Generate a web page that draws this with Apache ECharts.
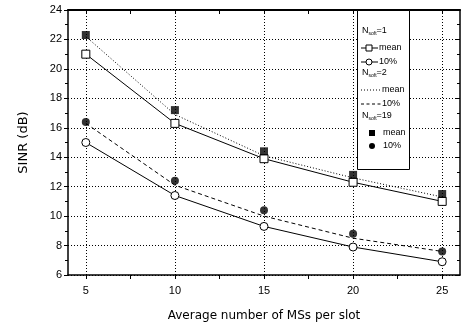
<!DOCTYPE html>
<html><head><meta charset="utf-8">
<script src="https://cdn.jsdelivr.net/npm/echarts@6/dist/echarts.min.js"></script>
<style>html,body{margin:0;padding:0;background:#fff}#c{width:462px;height:327px}</style>
</head><body><div id="c"></div>
<script>
var xValues = [5, 10, 15, 20, 25];
var xTicks = [5, 7.5, 10, 12.5, 15, 17.5, 20, 22.5, 25];
var n1Mean = [21.0, 16.3, 13.9, 12.3, 11.0];
var n1P10 = [15.0, 11.4, 9.3, 7.9, 6.9];
var n2Mean = [22.2, 16.9, 14.1, 12.6, 11.3];
var n2P10 = [16.3, 12.1, 10.0, 8.5, 7.6];
var n19Mean = [22.3, 17.2, 14.4, 12.8, 11.5];
var n19P10 = [16.4, 12.4, 10.4, 8.8, 7.6];
var xTitle = 'Average number of MSs per slot';
var yTitle = 'SINR (dB)';

function pairs(ys){ return xValues.map(function(x,i){return [x, ys[i]];}); }

var chart = echarts.init(document.getElementById('c'), null, {renderer:'canvas'});
var FONT = 'Liberation Sans, Arial, sans-serif';
var axisLine = {show:true, lineStyle:{color:'#000', width:1.5}};
var grid = {show:true, lineStyle:{color:'#000', width:1, type:[1,2]}};

function legendText(y, t){
  return {type:'text', left:362, top:y-6, z:100,
    style:{text:'{a|N}{s|soft}{a|=' + t + '}', rich:{a:{fontSize:9, fontFamily:FONT, fill:'#000'}, s:{fontSize:5, fontFamily:FONT, fill:'#000', padding:[7,0,0,0]}}}};
}
function txt(x,y,t){ return {type:'text', left:x, top:y-5, z:100, style:{text:t, fontSize:9, fontFamily:FONT, fill:'#000'}}; }
function ln(x1,x2,y,dash){ return {type:'line', z:100, shape:{x1:x1,y1:y,x2:x2,y2:y}, style:{stroke:'#000', lineWidth:1, lineDash:dash||null}}; }

var graphics = [
  {type:'rect', z:99, shape:{x:357.5, y:10.5, width:52, height:159}, style:{fill:'#fff', stroke:'#000', lineWidth:1}},
  legendText(32,'1'),
  ln(361,378,48), {type:'rect', z:101, shape:{x:366, y:45, width:6, height:6}, style:{fill:'#fff', stroke:'#000', lineWidth:1}}, txt(379,48,'mean'),
  ln(361,378,62), {type:'circle', z:101, shape:{cx:369, cy:62, r:3}, style:{fill:'#fff', stroke:'#000', lineWidth:1}}, txt(379,62,'10%'),
  legendText(74,'2'),
  ln(361,381,90,[1,2]), txt(382,90,'mean'),
  ln(361,381,104,[3,2.5]), txt(382,104,'10%'),
  legendText(117,'19'),
  {type:'rect', z:101, shape:{x:369, y:130, width:6, height:6}, style:{fill:'#000'}}, txt(383,133,'mean'),
  {type:'circle', z:101, shape:{cx:372, cy:146, r:3}, style:{fill:'#000'}}, txt(383,146,'10%')
];

var option = {
  animation:false,
  backgroundColor:'#fff',
  textStyle:{fontFamily:FONT},
  grid:{left:68, top:10, right:2, bottom:52, containLabel:false},
  xAxis:[
    {type:'value', min:4, max:26, interval:1, position:'bottom',
     axisLine:axisLine,
     axisTick:{show:true, inside:false, length:4, customValues:xTicks, lineStyle:{color:'#000'}},
     axisLabel:{show:true, color:'#000', fontSize:11, fontFamily:FONT, margin:10, customValues:xValues},
     splitLine:{show:false},
     name:xTitle, nameLocation:'middle', nameGap:35, nameTextStyle:{color:'#000', fontSize:12, fontFamily:'DejaVu Sans'}},
    {type:'value', min:4, max:26, interval:1, position:'top',
     axisLine:{show:true, lineStyle:{color:'#000', width:2}},
     axisTick:{show:true, inside:true, length:4, customValues:xTicks, lineStyle:{color:'#000'}},
     axisLabel:{show:false}, splitLine:{show:false}}
  ],
  yAxis:[
    {type:'value', min:6, max:24, interval:2, position:'left',
     axisLine:axisLine,
     axisTick:{show:true, inside:false, length:4, lineStyle:{color:'#000'}},
     minorTick:{show:true, splitNumber:2, length:3, lineStyle:{color:'#000'}},
     axisLabel:{color:'#000', fontSize:11, fontFamily:FONT, margin:6},
     splitLine:grid,
     name:yTitle, nameLocation:'middle', nameGap:38, nameRotate:90, nameTextStyle:{color:'#000', fontSize:13, fontFamily:'DejaVu Sans'}},
    {type:'value', min:6, max:24, interval:2, position:'right',
     axisLine:axisLine,
     axisTick:{show:true, inside:true, length:4, lineStyle:{color:'#000'}},
     minorTick:{show:true, splitNumber:2, length:3, lineStyle:{color:'#000'}},
     axisLabel:{show:false}, splitLine:{show:false}}
  ],
  graphic:graphics,
  series:[
    {type:'line', name:'N1 mean', data:pairs(n1Mean), symbol:'rect', symbolSize:8, showAllSymbol:true,
     lineStyle:{color:'#000', width:1}, itemStyle:{color:'#fff', borderColor:'#000', borderWidth:1}, z:5},
    {type:'line', name:'N1 10%', data:pairs(n1P10), symbol:'circle', symbolSize:8,
     lineStyle:{color:'#000', width:1}, itemStyle:{color:'#fff', borderColor:'#000', borderWidth:1}, z:5},
    {type:'line', name:'N2 mean', data:pairs(n2Mean), symbol:'none',
     lineStyle:{color:'#000', width:1, type:[1,2]}, z:4},
    {type:'line', name:'N2 10%', data:pairs(n2P10), symbol:'none',
     lineStyle:{color:'#000', width:1, type:[4,3]}, z:4},
    {type:'scatter', name:'N19 mean', data:pairs(n19Mean), symbol:'rect', symbolSize:8,
     itemStyle:{color:'#000'}, z:6},
    {type:'scatter', name:'N19 10%', data:pairs(n19P10), symbol:'circle', symbolSize:8,
     itemStyle:{color:'#000'}, z:6},
    {type:'line', data:[], markLine:{silent:true, symbol:'none', label:{show:false},
      lineStyle:{color:'#000', width:1, type:[1,2]},
      data:xValues.map(function(x){return {xAxis:x};})}}
  ]
};
chart.setOption(option);
</script></body></html>
